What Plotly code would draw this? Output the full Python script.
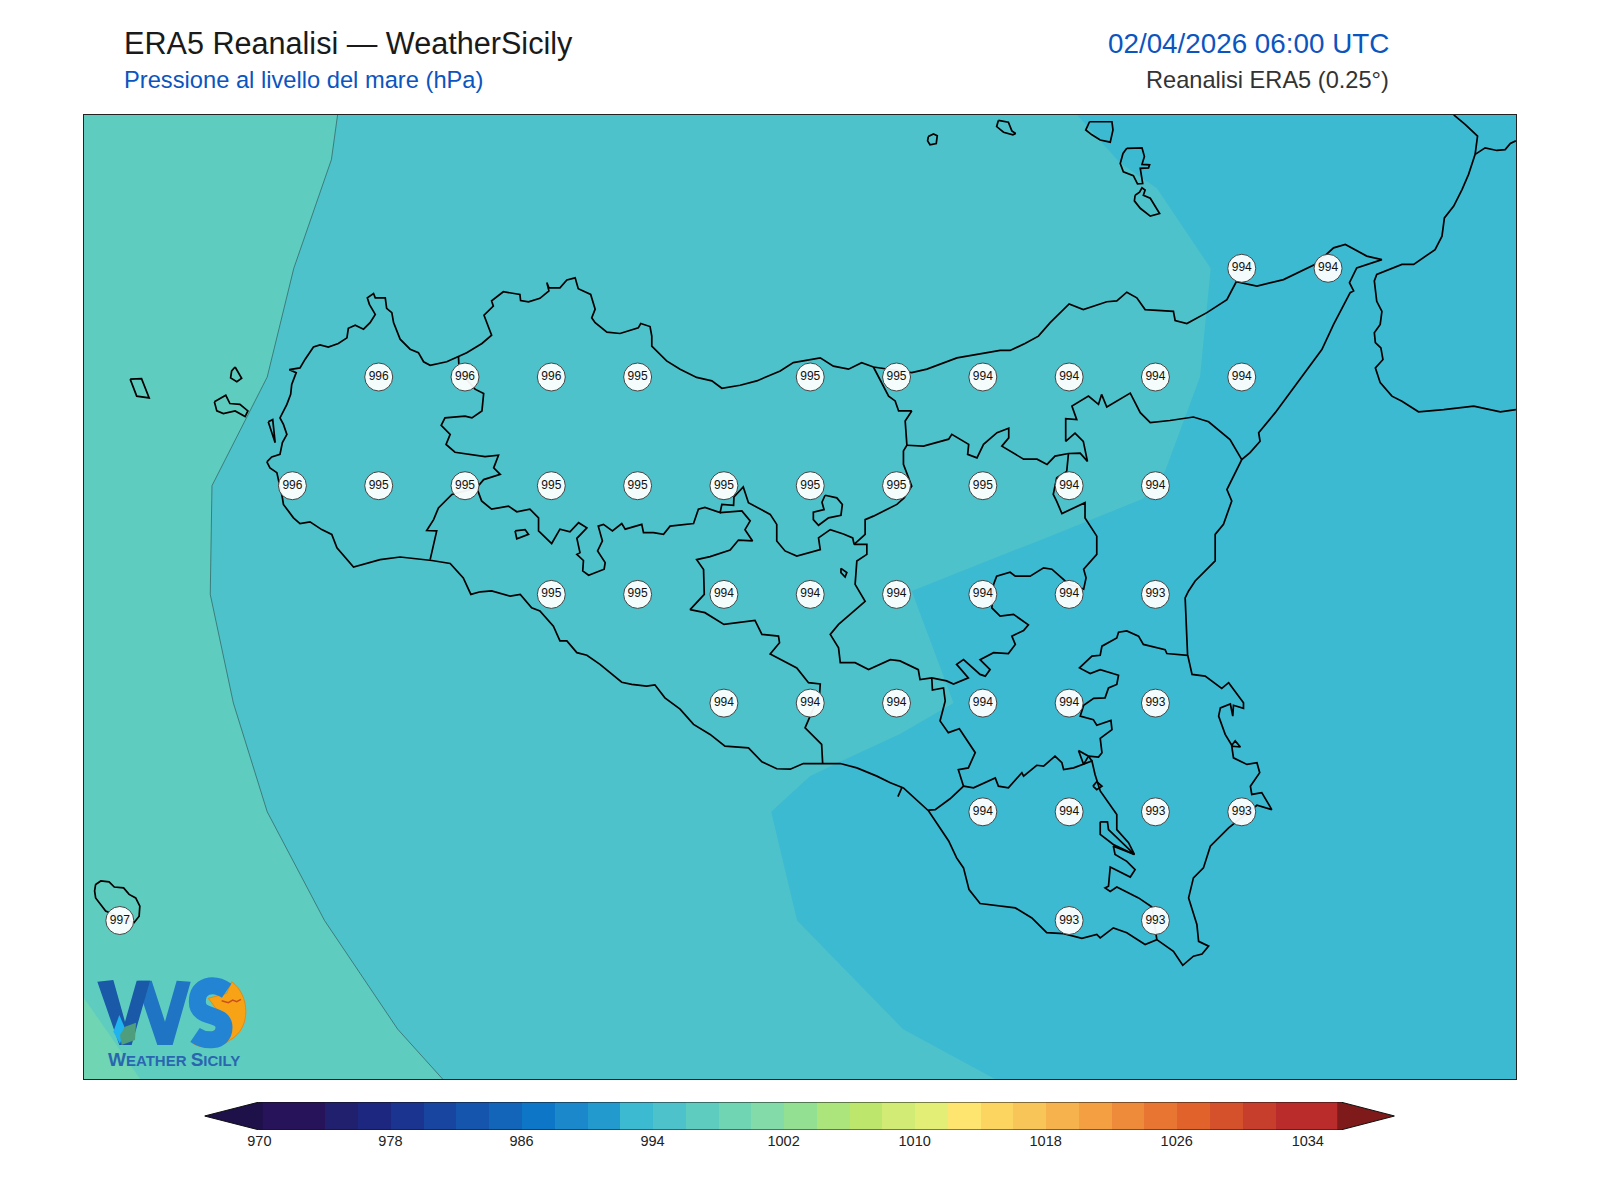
# -*- coding: utf-8 -*-
import plotly.graph_objects as go

lon_min, lon_max = 11.8963, 16.0444
lat_min, lat_max = 36.3855, 38.6037

# colorbar
cb_levels = [971, 973, 975, 977, 979, 981, 983, 985, 987, 989, 991, 993, 995, 997, 999, 1001, 1003,
             1005, 1007, 1009, 1011, 1013, 1015, 1017, 1019, 1021, 1023, 1025, 1027, 1029, 1031, 1033, 1035]
cb_colors = ['#27135A', '#27135A', '#20206F', '#1D277F', '#1A3490', '#1745A0', '#1555AE', '#1265B8',
             '#0D76C6', '#1A88CB', '#229ACE', '#3CBAD2', '#4EC2CA', '#5ECDC0', '#6FD5B3', '#82DBA8',
             '#94E092', '#ACE57C', '#BDE76C', '#D1EB75', '#E2EE76', '#FEE570', '#FCD561', '#F8C558',
             '#F6B24C', '#F39F42', '#EE8B3B', '#E87632', '#E1622B', '#D5512C', '#C83E2C', '#BA2C2B', '#BA2C2B']
cb_ticks = [970, 978, 986, 994, 1002, 1010, 1018, 1026, 1034]

# grid point labels (hPa)
label_lon = [15.25, 15.5,
             12.75, 13.0, 13.25, 13.5, 14.0, 14.25, 14.5, 14.75, 15.0, 15.25,
             12.5, 12.75, 13.0, 13.25, 13.5, 13.75, 14.0, 14.25, 14.5, 14.75, 15.0,
             13.25, 13.5, 13.75, 14.0, 14.25, 14.5, 14.75, 15.0,
             13.75, 14.0, 14.25, 14.5, 14.75, 15.0,
             14.5, 14.75, 15.0, 15.25,
             12.0, 14.75, 15.0]
label_lat = [38.25, 38.25,
             38.0, 38.0, 38.0, 38.0, 38.0, 38.0, 38.0, 38.0, 38.0, 38.0,
             37.75, 37.75, 37.75, 37.75, 37.75, 37.75, 37.75, 37.75, 37.75, 37.75, 37.75,
             37.5, 37.5, 37.5, 37.5, 37.5, 37.5, 37.5, 37.5,
             37.25, 37.25, 37.25, 37.25, 37.25, 37.25,
             37.0, 37.0, 37.0, 37.0,
             36.75, 36.75, 36.75]
label_val = [994, 994,
             996, 996, 996, 995, 995, 995, 994, 994, 994, 994,
             996, 995, 995, 995, 995, 995, 995, 995, 995, 994, 994,
             995, 995, 994, 994, 994, 994, 994, 993,
             994, 994, 994, 994, 994, 993,
             994, 994, 993, 993,
             997, 993, 993]

# contour edges
edge_996 = [(12.631, 38.6037), (12.613, 38.5), (12.504, 38.25), (12.427, 38.0), (12.267, 37.75),
            (12.262, 37.5), (12.329, 37.25), (12.427, 37.0), (12.593, 36.75), (12.805, 36.5), (12.935, 36.3855)]
edge_998 = [(11.8963, 36.572), (12.059, 36.3855)]
edge_994 = [(14.772, 38.6037), (14.897, 38.493), (15.004, 38.434), (15.160, 38.25), (15.129, 38.0),
            (15.028, 37.784), (14.964, 37.72), (14.695, 37.634), (14.294, 37.508), (14.415, 37.25),
            (14.26, 37.179), (14.086, 37.115), (13.999, 37.082), (13.887, 37.0), (13.907, 36.933),
            (13.962, 36.75), (14.269, 36.5), (14.535, 36.3855)]

coast_sicily = [
    (12.426, 37.805), (12.440, 37.816), (12.464, 37.822), (12.471, 37.849), (12.484, 37.868), (12.474, 37.891),
    (12.464, 37.906), (12.484, 37.937), (12.495, 37.960), (12.498, 37.983), (12.511, 38.010), (12.491, 38.017),
    (12.522, 38.021), (12.537, 38.041), (12.561, 38.069), (12.580, 38.074), (12.604, 38.069), (12.633, 38.077),
    (12.658, 38.090), (12.662, 38.112), (12.682, 38.119), (12.706, 38.110), (12.725, 38.125), (12.740, 38.144),
    (12.723, 38.167), (12.717, 38.182), (12.735, 38.192), (12.740, 38.182), (12.769, 38.182), (12.773, 38.158),
    (12.788, 38.148), (12.793, 38.125), (12.812, 38.087), (12.841, 38.064), (12.865, 38.056), (12.880, 38.035),
    (12.899, 38.027), (12.947, 38.035), (13.005, 38.056), (13.049, 38.077), (13.077, 38.096), (13.055, 38.142),
    (13.082, 38.163), (13.077, 38.175), (13.111, 38.196), (13.159, 38.190), (13.161, 38.176), (13.184, 38.173),
    (13.217, 38.181), (13.243, 38.198), (13.237, 38.217), (13.243, 38.205), (13.275, 38.205), (13.295, 38.223),
    (13.319, 38.228), (13.328, 38.203), (13.364, 38.190), (13.377, 38.156), (13.367, 38.136), (13.377, 38.125),
    (13.411, 38.103), (13.449, 38.100), (13.502, 38.113), (13.509, 38.123), (13.536, 38.116), (13.541, 38.094),
    (13.541, 38.071), (13.584, 38.037), (13.623, 38.018), (13.671, 37.999), (13.715, 37.991), (13.744, 37.974),
    (13.797, 37.981), (13.845, 37.991), (13.913, 38.014), (13.951, 38.033), (14.029, 38.044), (14.067, 38.025),
    (14.111, 38.018), (14.149, 38.033), (14.183, 38.023), (14.222, 38.018), (14.294, 38.010), (14.338, 38.018),
    (14.425, 38.044), (14.550, 38.061), (14.579, 38.061), (14.622, 38.077), (14.661, 38.094), (14.695, 38.125),
    (14.750, 38.168), (14.791, 38.155), (14.859, 38.173), (14.888, 38.175), (14.917, 38.195), (14.946, 38.182),
    (14.970, 38.155), (15.052, 38.151), (15.057, 38.130), (15.091, 38.123), (15.149, 38.148), (15.207, 38.178),
    (15.234, 38.219), (15.294, 38.209), (15.371, 38.224), (15.463, 38.259), (15.516, 38.297), (15.550, 38.305),
    (15.612, 38.278), (15.656, 38.270), (15.583, 38.251), (15.562, 38.217), (15.574, 38.198), (15.564, 38.194),
    (15.516, 38.121), (15.482, 38.063), (15.443, 38.021), (15.347, 37.918), (15.299, 37.872), (15.303, 37.852),
    (15.274, 37.826), (15.250, 37.810), (15.207, 37.741), (15.221, 37.715), (15.197, 37.661), (15.173, 37.638),
    (15.173, 37.577), (15.115, 37.531), (15.096, 37.508), (15.086, 37.492), (15.093, 37.362), (15.106, 37.316),
    (15.144, 37.312), (15.192, 37.284), (15.212, 37.297), (15.255, 37.251), (15.255, 37.238), (15.226, 37.245),
    (15.224, 37.220), (15.217, 37.248), (15.188, 37.239), (15.183, 37.220), (15.202, 37.178), (15.221, 37.153),
    (15.231, 37.163), (15.246, 37.149), (15.221, 37.151), (15.226, 37.124), (15.265, 37.109), (15.294, 37.113),
    (15.302, 37.090), (15.275, 37.059), (15.279, 37.040), (15.308, 37.044), (15.337, 37.005), (15.294, 37.015),
    (15.212, 36.963), (15.159, 36.921), (15.139, 36.871), (15.110, 36.848), (15.096, 36.802), (15.120, 36.741),
    (15.125, 36.702), (15.154, 36.691), (15.135, 36.673), (15.110, 36.668), (15.079, 36.647), (15.052, 36.679),
    (15.004, 36.706), (14.970, 36.695), (14.917, 36.722), (14.878, 36.733), (14.840, 36.710), (14.830, 36.718),
    (14.787, 36.709), (14.734, 36.720), (14.685, 36.722), (14.642, 36.756), (14.594, 36.779), (14.550, 36.783),
    (14.492, 36.789), (14.460, 36.821), (14.444, 36.871), (14.424, 36.894), (14.401, 36.933), (14.343, 37.002),
    (14.270, 37.055), (14.232, 37.067), (14.193, 37.082), (14.135, 37.101), (14.087, 37.111), (14.038, 37.111),
    (13.980, 37.111), (13.942, 37.098), (13.903, 37.099), (13.860, 37.115), (13.821, 37.147), (13.753, 37.151),
    (13.710, 37.178), (13.662, 37.201), (13.623, 37.236), (13.579, 37.262), (13.550, 37.292), (13.526, 37.289),
    (13.483, 37.293), (13.454, 37.298), (13.420, 37.320), (13.391, 37.339), (13.353, 37.360), (13.324, 37.366),
    (13.295, 37.393), (13.275, 37.393), (13.256, 37.427), (13.217, 37.462), (13.193, 37.469), (13.160, 37.500),
    (13.131, 37.496), (13.077, 37.508), (13.044, 37.506), (13.017, 37.500), (12.995, 37.538), (12.957, 37.571),
    (12.904, 37.578), (12.841, 37.584), (12.812, 37.586), (12.754, 37.580), (12.677, 37.563), (12.629, 37.607),
    (12.614, 37.638), (12.585, 37.649), (12.551, 37.667), (12.522, 37.663), (12.503, 37.676), (12.474, 37.707),
    (12.471, 37.722), (12.455, 37.780), (12.435, 37.791), (12.426, 37.805)]

coast_calabria = [
    (15.864, 38.603), (15.897, 38.581), (15.933, 38.554), (15.926, 38.512), (15.907, 38.466), (15.888, 38.431),
    (15.864, 38.393), (15.837, 38.366), (15.830, 38.324), (15.810, 38.293), (15.748, 38.259), (15.714, 38.259),
    (15.641, 38.236), (15.634, 38.221), (15.641, 38.174), (15.656, 38.151), (15.651, 38.121), (15.634, 38.102),
    (15.637, 38.079), (15.653, 38.067), (15.659, 38.040), (15.637, 38.021), (15.651, 37.987), (15.685, 37.956),
    (15.714, 37.944), (15.762, 37.920), (15.835, 37.925), (15.922, 37.933), (15.999, 37.920), (16.044, 37.925)]
border_calabria = [(15.926, 38.512), (15.955, 38.527), (15.989, 38.521), (16.013, 38.523), (16.028, 38.537), (16.044, 38.543)]

border_trapani = [
    (12.981, 38.048), (12.983, 38.014), (13.029, 37.972), (13.054, 37.962), (13.049, 37.922), (13.020, 37.906),
    (13.000, 37.910), (12.942, 37.906), (12.931, 37.889), (12.957, 37.868), (12.945, 37.845), (12.971, 37.827),
    (13.058, 37.817), (13.097, 37.820), (13.083, 37.791), (13.102, 37.776), (13.054, 37.764), (13.034, 37.745),
    (12.962, 37.730), (12.923, 37.699), (12.909, 37.672), (12.889, 37.647), (12.918, 37.646), (12.909, 37.615),
    (12.899, 37.580)]
border_palermo_south = [
    (13.034, 37.745), (13.048, 37.715), (13.077, 37.696), (13.126, 37.703), (13.150, 37.690), (13.188, 37.696),
    (13.213, 37.676), (13.213, 37.646), (13.251, 37.617), (13.275, 37.650), (13.304, 37.644), (13.329, 37.665),
    (13.353, 37.653), (13.324, 37.629), (13.333, 37.596), (13.324, 37.592), (13.343, 37.578), (13.341, 37.554),
    (13.358, 37.544), (13.403, 37.558), (13.406, 37.573), (13.384, 37.600), (13.398, 37.623), (13.386, 37.657),
    (13.401, 37.661), (13.427, 37.646), (13.454, 37.663), (13.464, 37.650), (13.512, 37.661), (13.517, 37.642),
    (13.546, 37.642), (13.575, 37.638), (13.594, 37.657), (13.662, 37.663), (13.676, 37.696), (13.695, 37.700),
    (13.739, 37.688), (13.744, 37.707), (13.778, 37.705), (13.779, 37.724), (13.806, 37.747), (13.821, 37.711),
    (13.884, 37.684), (13.903, 37.661), (13.903, 37.623), (13.927, 37.600), (13.961, 37.588), (14.029, 37.603),
    (14.024, 37.630), (14.058, 37.649), (14.096, 37.639), (14.123, 37.630), (14.127, 37.615), (14.159, 37.638),
    (14.159, 37.672), (14.183, 37.680), (14.251, 37.707), (14.272, 37.722), (14.294, 37.749), (14.270, 37.799),
    (14.270, 37.830), (14.280, 37.843), (14.275, 37.899), (14.294, 37.922), (14.256, 37.922), (14.246, 37.945),
    (14.227, 37.956), (14.183, 38.023)]
border_agrigento = [
    (13.739, 37.688), (13.802, 37.692), (13.826, 37.669), (13.811, 37.649), (13.833, 37.623), (13.792, 37.625),
    (13.768, 37.602), (13.710, 37.587), (13.671, 37.580), (13.691, 37.557), (13.693, 37.500), (13.652, 37.465),
    (13.695, 37.458), (13.750, 37.431), (13.840, 37.440), (13.860, 37.408), (13.908, 37.404), (13.911, 37.389),
    (13.884, 37.363), (13.961, 37.331), (13.995, 37.297), (14.029, 37.294), (14.027, 37.270), (13.995, 37.213),
    (13.985, 37.193), (14.033, 37.155), (14.036, 37.111)]
border_messina = [
    (14.280, 37.843), (14.328, 37.841), (14.401, 37.857), (14.410, 37.868), (14.459, 37.845), (14.456, 37.822),
    (14.483, 37.814), (14.502, 37.845), (14.541, 37.872), (14.575, 37.882), (14.575, 37.860), (14.555, 37.841),
    (14.618, 37.811), (14.657, 37.811), (14.686, 37.799), (14.709, 37.818), (14.748, 37.824), (14.782, 37.825),
    (14.803, 37.806), (14.791, 37.852), (14.767, 37.871), (14.740, 37.852), (14.740, 37.904), (14.772, 37.902),
    (14.758, 37.933), (14.782, 37.944), (14.806, 37.956), (14.835, 37.937), (14.844, 37.960), (14.859, 37.931),
    (14.927, 37.963), (14.956, 37.918), (14.985, 37.895), (15.042, 37.900), (15.110, 37.908), (15.154, 37.897),
    (15.216, 37.856), (15.250, 37.810)]
border_enna = [
    (14.748, 37.824), (14.743, 37.783), (14.714, 37.768), (14.704, 37.730), (14.714, 37.714), (14.729, 37.686),
    (14.796, 37.711), (14.796, 37.676), (14.830, 37.634), (14.830, 37.592), (14.792, 37.558), (14.799, 37.538),
    (14.792, 37.512), (14.750, 37.523), (14.700, 37.558), (14.676, 37.561), (14.637, 37.542), (14.594, 37.542),
    (14.579, 37.551), (14.540, 37.542), (14.531, 37.523), (14.526, 37.469), (14.550, 37.450), (14.589, 37.454),
    (14.632, 37.430), (14.618, 37.417), (14.584, 37.404), (14.594, 37.385), (14.574, 37.364), (14.531, 37.366),
    (14.492, 37.350), (14.521, 37.327), (14.507, 37.312), (14.492, 37.316), (14.444, 37.350), (14.424, 37.339),
    (14.458, 37.308), (14.415, 37.294), (14.395, 37.301), (14.352, 37.308), (14.318, 37.304), (14.313, 37.327),
    (14.260, 37.347), (14.232, 37.350), (14.169, 37.327), (14.130, 37.343), (14.087, 37.343), (14.082, 37.377),
    (14.058, 37.408), (14.082, 37.431), (14.159, 37.484), (14.130, 37.523), (14.135, 37.577), (14.164, 37.592),
    (14.164, 37.615), (14.127, 37.615)]
border_ragusa = [
    (14.352, 37.308), (14.354, 37.280), (14.386, 37.285), (14.391, 37.255), (14.376, 37.209), (14.400, 37.182),
    (14.432, 37.191), (14.478, 37.136), (14.458, 37.101), (14.429, 37.097), (14.444, 37.059), (14.405, 37.030),
    (14.362, 37.005), (14.342, 37.004)]
border_ragusa_east = [
    (14.444, 37.059), (14.473, 37.055), (14.536, 37.078), (14.545, 37.059), (14.574, 37.055), (14.613, 37.090),
    (14.618, 37.082), (14.656, 37.107), (14.676, 37.105), (14.709, 37.128), (14.729, 37.113), (14.734, 37.097),
    (14.763, 37.101), (14.816, 37.117), (14.825, 37.086), (14.840, 37.048), (14.888, 36.994), (14.888, 36.959),
    (14.922, 36.929), (14.939, 36.902), (14.878, 36.921), (14.883, 36.902), (14.917, 36.886), (14.941, 36.867),
    (14.927, 36.850), (14.869, 36.873), (14.864, 36.829), (14.854, 36.825), (14.869, 36.817), (14.888, 36.827),
    (14.951, 36.802), (14.990, 36.781), (15.004, 36.706)]
border_siracusa = [
    (14.816, 37.117), (14.806, 37.128), (14.835, 37.126), (14.845, 37.136), (14.840, 37.169), (14.874, 37.189),
    (14.871, 37.210), (14.830, 37.199), (14.820, 37.212), (14.782, 37.220), (14.792, 37.245), (14.821, 37.261),
    (14.854, 37.262), (14.864, 37.285), (14.888, 37.293), (14.893, 37.314), (14.840, 37.327), (14.811, 37.318),
    (14.780, 37.331), (14.816, 37.358), (14.840, 37.360), (14.845, 37.381), (14.888, 37.400), (14.893, 37.413),
    (14.917, 37.416), (14.951, 37.404), (14.965, 37.385), (15.028, 37.373), (15.033, 37.364), (15.093, 37.360)]
border_short = [(14.265, 37.055), (14.254, 37.035)]

# small closed shapes: enclaves, lakes, lagoon
lake_triangle = [(14.777, 37.141), (14.792, 37.109), (14.806, 37.128), (14.777, 37.141)]
lake_loop = [(14.819, 37.059), (14.830, 37.069), (14.845, 37.059), (14.830, 37.051), (14.819, 37.059)]
inlet_ragusa = [(14.840, 36.977), (14.861, 36.977), (14.864, 36.959), (14.939, 36.902), (14.878, 36.925),
                (14.840, 36.948), (14.840, 36.977)]
enclave_agrigento = [(13.145, 37.646), (13.174, 37.649), (13.184, 37.638), (13.150, 37.628), (13.145, 37.646)]
enclave_palermo = [(14.043, 37.728), (14.077, 37.722), (14.093, 37.707), (14.089, 37.682), (14.053, 37.676),
                   (14.024, 37.659), (14.009, 37.672), (14.009, 37.689), (14.040, 37.695), (14.034, 37.712),
                   (14.043, 37.728)]
lake_enna = [(14.089, 37.560), (14.106, 37.550), (14.101, 37.540), (14.089, 37.550), (14.089, 37.560)]
stagnone = [(12.430, 37.897), (12.443, 37.902), (12.450, 37.849), (12.430, 37.897)]

# islands
marettimo = [(12.030, 37.995), (12.063, 37.996), (12.085, 37.952), (12.049, 37.956), (12.030, 37.995)]
levanzo = [(12.334, 38.023), (12.353, 37.997), (12.339, 37.989), (12.321, 37.998), (12.324, 38.014), (12.334, 38.023)]
favignana = [(12.274, 37.943), (12.307, 37.958), (12.319, 37.939), (12.348, 37.937), (12.371, 37.922),
             (12.363, 37.909), (12.334, 37.922), (12.300, 37.916), (12.281, 37.922), (12.274, 37.943)]
pantelleria = [(11.930, 36.833), (11.945, 36.841), (11.969, 36.839), (11.984, 36.827), (12.011, 36.825),
               (12.027, 36.810), (12.046, 36.802), (12.058, 36.783), (12.056, 36.760), (12.041, 36.745),
               (11.959, 36.772), (11.930, 36.802), (11.927, 36.818), (11.930, 36.833)]
ustica = [(14.342, 38.553), (14.357, 38.559), (14.368, 38.555), (14.365, 38.537), (14.347, 38.534),
          (14.340, 38.543), (14.342, 38.553)]
alicudi = [(14.545, 38.590), (14.574, 38.586), (14.584, 38.566), (14.595, 38.560), (14.587, 38.557),
           (14.560, 38.563), (14.540, 38.576), (14.545, 38.590)]
salina = [(14.809, 38.587), (14.874, 38.587), (14.877, 38.568), (14.869, 38.540), (14.840, 38.545),
          (14.816, 38.557), (14.798, 38.568), (14.809, 38.587)]
lipari = [(14.917, 38.526), (14.961, 38.527), (14.968, 38.507), (14.961, 38.489), (14.983, 38.488),
          (14.980, 38.481), (14.956, 38.480), (14.963, 38.445), (14.948, 38.444), (14.936, 38.463),
          (14.907, 38.472), (14.898, 38.491), (14.906, 38.514), (14.917, 38.526)]
vulcano = [(14.941, 38.418), (14.954, 38.425), (14.961, 38.435), (14.970, 38.430), (14.965, 38.418),
           (14.985, 38.411), (15.012, 38.376), (14.985, 38.370), (14.956, 38.388), (14.939, 38.405),
           (14.941, 38.418)]

outlines = [coast_sicily, coast_calabria, border_calabria, border_trapani, border_palermo_south, border_agrigento,
            border_messina, border_enna, border_ragusa, border_ragusa_east, border_siracusa, border_short,
            lake_triangle, lake_loop, inlet_ragusa, enclave_agrigento, enclave_palermo, lake_enna, stagnone,
            marettimo, levanzo, favignana, pantelleria, ustica, alicudi, salina, lipari, vulcano]


def xy(points):
    return [p[0] for p in points], [p[1] for p in points]


def join(paths):
    xs, ys = [], []
    for p in paths:
        a, b = xy(p)
        xs += a + [None]
        ys += b + [None]
    return xs, ys


fig = go.Figure()

# filled pressure bands
fig.add_trace(go.Scatter(x=[lon_min, lon_max, lon_max, lon_min, lon_min],
                         y=[lat_min, lat_min, lat_max, lat_max, lat_min],
                         fill='toself', fillcolor='#4EC2CA', mode='none', hoverinfo='skip'))
a, b = xy(edge_996 + [(lon_min, lat_min), (lon_min, lat_max)])
fig.add_trace(go.Scatter(x=a, y=b, fill='toself', fillcolor='#5ECDC0', mode='none', hoverinfo='skip'))
a, b = xy(edge_998 + [(lon_min, lat_min)])
fig.add_trace(go.Scatter(x=a, y=b, fill='toself', fillcolor='#6FD5B3', mode='none', hoverinfo='skip'))
a, b = xy(edge_994 + [(lon_max, lat_min), (lon_max, lat_max)])
fig.add_trace(go.Scatter(x=a, y=b, fill='toself', fillcolor='#3CBAD2', mode='none', hoverinfo='skip'))

a, b = xy(edge_996)
fig.add_trace(go.Scatter(x=a, y=b, mode='lines', line=dict(color='#2b4a4a', width=0.6), hoverinfo='skip'))

a, b = join(outlines)
fig.add_trace(go.Scatter(x=a, y=b, mode='lines', line=dict(color='black', width=1.7), hoverinfo='skip'))

fig.add_trace(go.Scatter(
    x=label_lon, y=label_lat, text=[str(v) for v in label_val],
    mode='markers+text', textposition='middle center',
    marker=dict(size=28, color='rgba(255,255,255,0.94)', line=dict(color='#444444', width=1)),
    textfont=dict(family='Liberation Sans', size=12, color='#111111'),
    hoverinfo='skip'))

# colorbar
fig.add_trace(go.Bar(x=cb_levels, y=[1] * len(cb_levels), width=2, marker=dict(color=cb_colors, line=dict(width=0)),
                     xaxis='x2', yaxis='y2', hoverinfo='skip'))
fig.add_trace(go.Scatter(x=[970.2, 970, 966.65, 970, 970.2], y=[0, 0, 0.5, 1, 1], xaxis='x2', yaxis='y2', fill='toself',
                         fillcolor='#1E1048', mode='none', hoverinfo='skip'))
fig.add_trace(go.Scatter(x=[1035.8, 1036, 1039.3, 1036, 1035.8], y=[0, 0, 0.5, 1, 1], xaxis='x2', yaxis='y2', fill='toself',
                         fillcolor='#7F1A1A', mode='none', hoverinfo='skip'))
fig.add_trace(go.Scatter(x=[970, 966.65, 970, 1036, 1039.3, 1036, 970], y=[0, 0.5, 1, 1, 0.5, 0, 0],
                         xaxis='x2', yaxis='y2', mode='lines', line=dict(color='#111111', width=1),
                         hoverinfo='skip'))


def paper(zx, zy):
    # logo drawn in pixels of the page
    return (80 + zx / 3) / 1600, 1 - (940 + zy / 3) / 1200


def path(points, close=False):
    out = 'M ' + ' L '.join('%.5f %.5f' % paper(*p) for p in points)
    return out + (' Z' if close else '')


def curve(start, segs):
    out = 'M %.5f %.5f' % paper(*start)
    for s in segs:
        out += ' C ' + ' '.join('%.5f %.5f' % paper(*p) for p in s)
    return out


logo_shapes = [
    dict(type='path', xref='paper', yref='paper', layer='above',
         path=curve((455, 125), [[(510, 165), (515, 265), (450, 300)], [(420, 325), (370, 330), (338, 310)]]) +
         ' L %.5f %.5f L %.5f %.5f L %.5f %.5f L %.5f %.5f Z' % (paper(415, 265) + paper(415, 215) + paper(385, 175) + paper(440, 160)),
         fillcolor='#F8A315', line=dict(color='#E8890F', width=1)),
    dict(type='path', xref='paper', yref='paper', layer='above',
         path=path([(175, 122), (215, 122), (255, 245), (290, 122), (332, 125), (278, 315), (232, 315), (190, 190)], True),
         fillcolor='#1F74C4', line=dict(width=0)),
    dict(type='path', xref='paper', yref='paper', layer='above',
         path=path([(52, 125), (100, 120), (135, 245), (170, 122), (210, 122), (155, 315), (118, 315)], True),
         fillcolor='#1A58A8', line=dict(width=0)),
    dict(type='path', xref='paper', yref='paper', layer='above',
         path=path([(118, 225), (135, 265), (120, 312), (100, 275)], True), fillcolor='#1FB4F0', line=dict(width=0)),
    dict(type='path', xref='paper', yref='paper', layer='above',
         path=path([(168, 248), (165, 300), (125, 315), (120, 285), (135, 260)], True), fillcolor='#4E9E7E',
         line=dict(width=0)),
    dict(type='path', xref='paper', yref='paper', layer='above',
         path=curve((440, 152), [[(400, 125), (352, 135), (352, 185)], [(352, 240), (432, 215), (432, 262)],
                                 [(432, 310), (375, 305), (345, 285)]]),
         line=dict(color='#2284D2', width=17)),
    dict(type='path', xref='paper', yref='paper', layer='above',
         path=path([(425, 182), (445, 188), (458, 180), (470, 185), (483, 178)]), line=dict(color='#C8501E', width=1.5)),
]

annotations = [
    dict(text='ERA5 Reanalisi — WeatherSicily', x=123.5 / 1600, y=1 - 43.5 / 1200, xanchor='left', yanchor='middle',
         font=dict(family='Liberation Sans', size=30.6, color='#1a1a1a')),
    dict(text='Pressione al livello del mare (hPa)', x=123.5 / 1600, y=1 - 80 / 1200, xanchor='left', yanchor='middle',
         font=dict(family='Liberation Sans', size=23.7, color='#0B55C0')),
    dict(text='02/04/2026 06:00 UTC', x=1389 / 1600, y=1 - 44 / 1200, xanchor='right', yanchor='middle',
         font=dict(family='Liberation Sans', size=27.8, color='#0B55C0')),
    dict(text='Reanalisi ERA5 (0.25°)', x=1389 / 1600, y=1 - 80 / 1200, xanchor='right', yanchor='middle',
         font=dict(family='Liberation Sans', size=23.6, color='#333333')),
    dict(text='<b><span style="font-size:19px">W</span>EATHER <span style="font-size:19px">S</span>ICILY</b>',
         x=174 / 1600, y=1 - 1059 / 1200, xanchor='center', yanchor='middle',
         font=dict(family='Liberation Sans', size=15, color='#2A66B0')),
]
for an in annotations:
    an.update(xref='paper', yref='paper', showarrow=False, borderpad=0, borderwidth=0)

fig.update_layout(
    width=1600, height=1200, margin=dict(l=0, r=0, t=0, b=0, pad=0), paper_bgcolor='white', plot_bgcolor='white',
    showlegend=False, bargap=0, annotations=annotations, shapes=logo_shapes,
    xaxis=dict(domain=[84 / 1600, 1516 / 1600], range=[lon_min, lon_max], showgrid=False, zeroline=False,
               showticklabels=False, ticks='', showline=True, mirror=True, linecolor='#222222', linewidth=1.3),
    yaxis=dict(domain=[1 - 1079 / 1200, 1 - 114.5 / 1200], range=[lat_min, lat_max], showgrid=False, zeroline=False,
               showticklabels=False, ticks='', showline=True, mirror=True, linecolor='#222222', linewidth=1.3),
    xaxis2=dict(anchor='y2', domain=[204.5 / 1600, 1394.6 / 1600], range=[966.65, 1039.3], showgrid=False,
                zeroline=False, tickmode='array', tickvals=cb_ticks, ticktext=[str(t) for t in cb_ticks], ticks='',
                tickfont=dict(family='Liberation Sans', size=14.5, color='#222222'), showline=False),
    yaxis2=dict(anchor='x2', domain=[1 - 1130 / 1200, 1 - 1102 / 1200], range=[0, 1], showgrid=False, zeroline=False,
                showticklabels=False, ticks='', showline=False),
)

fig.write_html('out.html', post_script="document.body.style.margin='0';", config=dict(displayModeBar=False))
